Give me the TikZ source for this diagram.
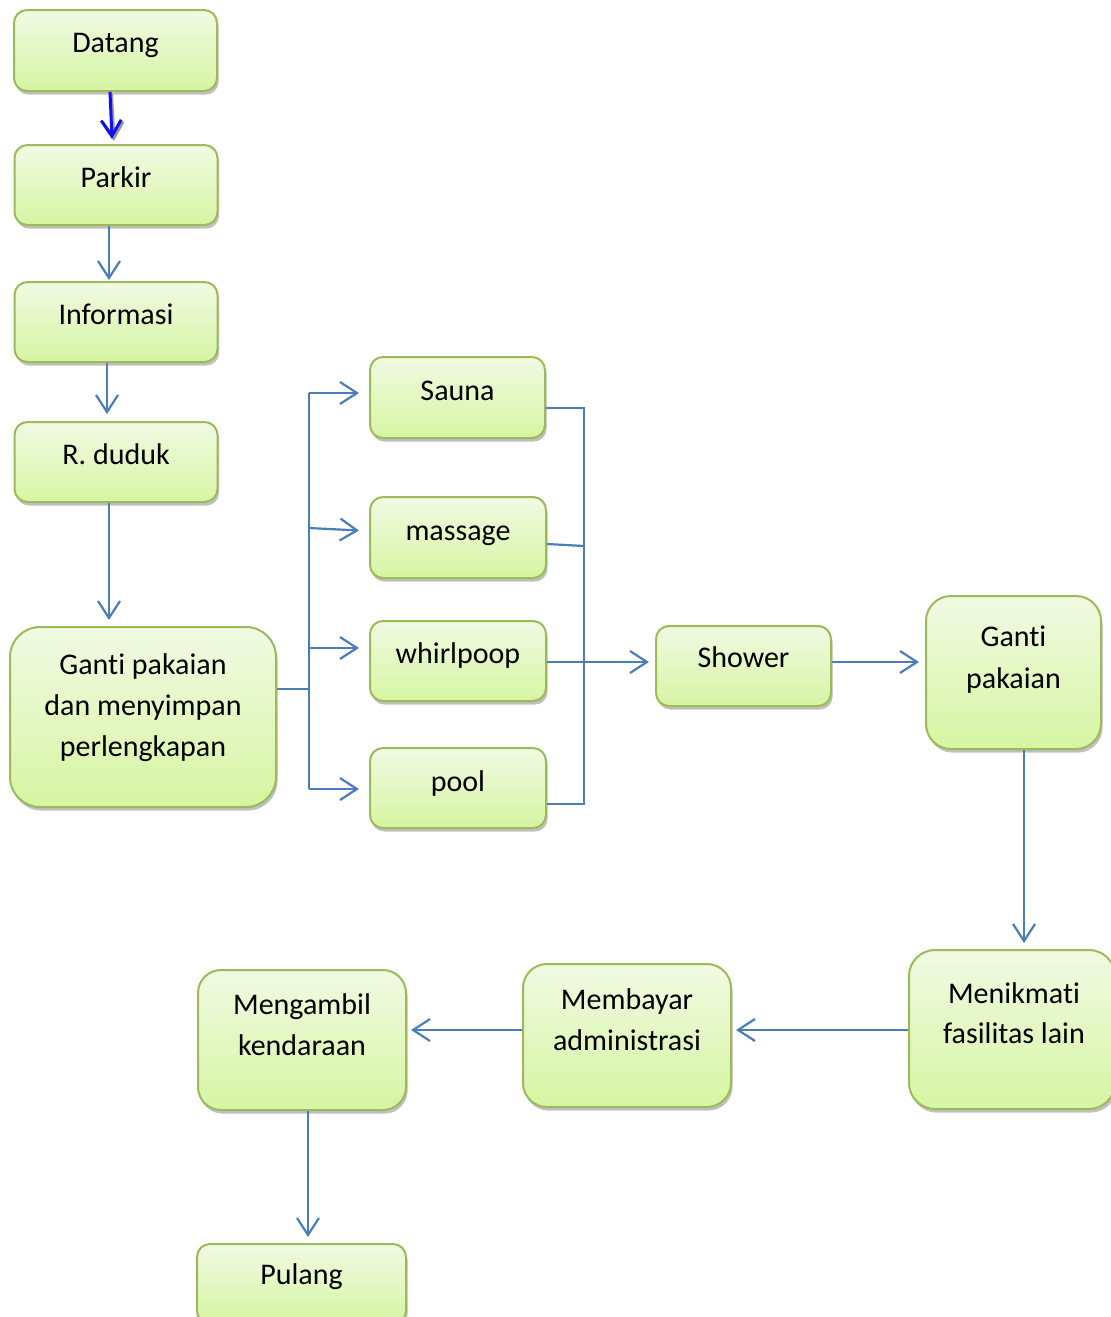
\documentclass[tikz,border=0pt]{standalone}
\usepackage{fontspec}
\setmainfont[Ligatures={NoCommon}]{Carlito}
\usetikzlibrary{arrows.meta,shadows,shadings}
\definecolor{boxtop}{HTML}{F1FAE3}
\definecolor{boxbot}{HTML}{D6F5A2}
\definecolor{boxedge}{HTML}{9BBB59}
\definecolor{conn}{HTML}{4A7EBB}
\definecolor{darkarr}{HTML}{1010F0}
\begin{document}
\begin{tikzpicture}[x=0.5pt,y=-0.5pt,
  box/.style={rectangle, rounded corners=#1, draw=boxedge, line width=1pt,
    top color=boxtop, bottom color=boxbot, inner sep=0pt,
    drop shadow={shadow xshift=0.8pt, shadow yshift=-1.8pt, opacity=0.45, fill=black!55}},
  box/.default=6.5pt,
  txt/.style={anchor=base, inner sep=0pt, font=\fontsize{15}{20.5}\selectfont},
  cline/.style={draw=conn, line width=1.1pt},
  carrow/.style={cline, -{Straight Barb[length=8.5pt,width=11pt,line width=1.1pt]}},
]
\useasboundingbox (0,0) rectangle (1111,1317);
% ---- boxes ----
\node[box, minimum width=101.5pt, minimum height=40.5pt] (datang) at (115.5,50.5) {};
\node[box, minimum width=101.5pt, minimum height=40pt] (parkir) at (116,185) {};
\node[box, minimum width=101.5pt, minimum height=40pt] (info) at (116,322) {};
\node[box, minimum width=101.5pt, minimum height=40pt] (rduduk) at (116,462) {};
\node[box=15pt, minimum width=133pt, minimum height=90pt] (gantiL) at (143,717) {};
\node[box, minimum width=87.5pt, minimum height=40.5pt] (sauna) at (457.5,397.5) {};
\node[box, minimum width=88pt, minimum height=40.5pt] (massage) at (458,537.5) {};
\node[box, minimum width=88pt, minimum height=40pt] (whirl) at (458,661) {};
\node[box, minimum width=88pt, minimum height=40pt] (pool) at (458,788) {};
\node[box, minimum width=87.5pt, minimum height=40pt] (shower) at (743.5,666) {};
\node[box=12.5pt, minimum width=87.5pt, minimum height=76.5pt] (gantiR) at (1013.5,672.5) {};
\node[box=13pt, minimum width=103pt, minimum height=79.5pt] (menikmati) at (1012,1029.5) {};
\node[box=12pt, minimum width=104pt, minimum height=71.5pt] (membayar) at (627,1035.5) {};
\node[box=11.5pt, minimum width=104pt, minimum height=70pt] (mengambil) at (302,1040) {};
\node[box, minimum width=104.5pt, minimum height=40pt] (pulang) at (301.5,1284) {};
% ---- texts ----
\node[txt] (tDatang) at (115.5,52) {Datang};
\node[txt] (tParkir) at (116,187) {Parkir};
\node[txt] (tInfo) at (116,324) {Informasi};
\node[txt] (tRduduk) at (116,464) {R. duduk};
\node[txt] (tGL1) at (143,674.5) {Ganti pakaian};
\node[txt] (tGL2) at (143,715.5) {dan menyimpan};
\node[txt] (tGL3) at (143,756.5) {perlengkapan};
\node[txt] (tSauna) at (457.5,400) {Sauna};
\node[txt] (tMassage) at (458,540) {massage};
\node[txt] (tWhirl) at (458,663) {whirlpoop};
\node[txt] (tPool) at (458,791.5) {pool};
\node[txt] (tShower) at (743.5,667.5) {Shower};
\node[txt] (tGR1) at (1013.5,646) {Ganti};
\node[txt] (tGR2) at (1013.5,688) {pakaian};
\node[txt] (tMen1) at (1014,1003.5) {Menikmati};
\node[txt] (tMen2) at (1014,1043.5) {fasilitas lain};
\node[txt] (tMem1) at (627,1009.5) {Membayar};
\node[txt] (tMem2) at (627,1050.5) {administrasi};
\node[txt] (tMg1) at (302,1014) {Mengambil};
\node[txt] (tMg2) at (302,1055) {kendaraan};
\node[txt] (tPulang) at (301.5,1284) {Pulang};
% ---- connectors ----
% Datang -> Parkir (dark blue with shadow)
\draw[draw=black!40, line width=1.5pt, -{Straight Barb[length=8pt,width=10pt,line width=1.5pt]}]
  ([xshift=-2pt,yshift=-1pt]datang.south) -- ([xshift=-1pt,yshift=1.5pt]parkir.north);
\draw[draw=darkarr, line width=1.5pt, -{Straight Barb[length=8pt,width=10pt,line width=1.5pt]}]
  ([xshift=-2.75pt]datang.south) -- ([xshift=-2pt,yshift=2.5pt]parkir.north);
\draw[carrow, shorten >=0.5pt] ([xshift=-3.5pt]parkir.south) -- ([xshift=-3.5pt]info.north);
\draw[carrow, shorten >=3.5pt] ([xshift=-4.5pt]info.south) -- ([xshift=-4.5pt]rduduk.north);
\draw[carrow, shorten >=3pt] ([xshift=-3.5pt]rduduk.south) -- ([xshift=-17pt]gantiL.north);
% fan out
\coordinate (fanM) at (309,689);
\coordinate (fanA) at (309,393);
\coordinate (fanB) at (309,528);
\coordinate (fanC) at (309,648);
\coordinate (fanD) at (309,789);
\draw[cline] ([yshift=14pt]gantiL.east) -- (fanM);
\draw[cline] (fanA) -- (fanD);
\draw[carrow, shorten >=5pt] (fanA) -- ([yshift=2.25pt]sauna.west);
\draw[carrow, shorten >=5pt] (fanB) -- ([yshift=3.25pt]massage.west);
\draw[carrow, shorten >=5pt] (fanC) -- ([yshift=6.5pt]whirl.west);
\draw[carrow, shorten >=5pt] (fanD) -- ([yshift=-0.5pt]pool.west);
% collect
\coordinate (colA) at (584,408);
\coordinate (colB) at (584,546);
\coordinate (colD) at (584,804);
\draw[cline] ([yshift=-5.25pt]sauna.east) -- (colA) -- (colD) -- ([yshift=-8pt]pool.east);
\draw[cline] ([yshift=-3.25pt]massage.east) -- (colB);
\draw[carrow, shorten >=3pt] ([yshift=-0.5pt]whirl.east) -- ([yshift=2pt]shower.west);
\draw[carrow, shorten >=3pt] ([yshift=2pt]shower.east) -- ([yshift=5.25pt]gantiR.west);
\draw[carrow, shorten >=3pt] ([xshift=5.25pt]gantiR.south) -- ([xshift=6pt]menikmati.north);
\draw[carrow, shorten >=2pt] ([yshift=-0.25pt]menikmati.west) -- ([yshift=2.75pt]membayar.east);
\draw[carrow, shorten >=2pt] ([yshift=2.75pt]membayar.west) -- ([yshift=5pt]mengambil.east);
\draw[carrow, shorten >=3pt] ([xshift=3pt]mengambil.south) -- ([xshift=3.25pt]pulang.north);
\end{tikzpicture}
\end{document}
